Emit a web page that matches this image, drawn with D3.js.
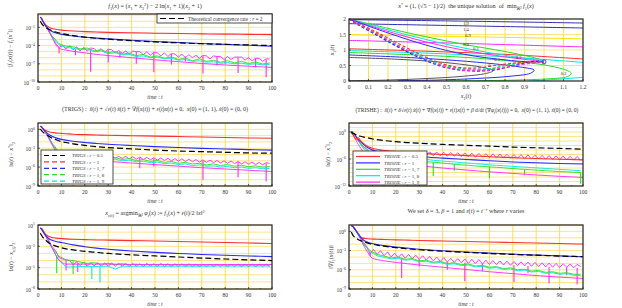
<!DOCTYPE html>
<html>
<head>
<meta charset="utf-8">
<script src="https://cdn.jsdelivr.net/npm/d3@7"></script>
<style>
  body { margin: 0; background: #fff; }
  text { font-family: "Liberation Serif", "DejaVu Serif", serif; fill: #333; }
</style>
</head>
<body>
<div id="chart"></div>
<script>
// time grids (seconds of the dynamics)
var tSmooth = [1, 1.5, 2, 3, 4, 5, 6, 7, 8, 10, 12, 15, 20, 25, 30, 40, 50, 60, 70, 80, 90, 100];
var tStart = [1.5, 2, 3, 4, 5];
var tOsc = tStart.concat(d3.range(6, 100, 1.5));
var tWig = tStart.concat(d3.range(6, 100, 3));
var xTicks = [0, 10, 20, 30, 40, 50, 60, 70, 80, 90, 100];

// all values below are log10 of what is plotted
// spikes are [t, from, to]

// panel 1 : |f1(x(t)) - f1(x*)|
var p1Black = [0, -0.35, -0.6, -0.95, -1.2, -1.4, -1.55, -1.68, -1.8, -2.0, -2.15, -2.35, -2.6, -2.8, -2.95, -3.2, -3.4, -3.55, -3.7, -3.8, -3.9, -4.0];
var p1Red = [0.7, 0.45, 0.1, -0.45, -0.8, -1.05, -1.2, -1.28, -1.35, -1.45, -1.52, -1.6, -1.7, -1.76, -1.82, -1.9, -1.96, -2.02, -2.07, -2.12, -2.16, -2.2];
var p1Blue = [0.7, 0.45, 0.05, -0.6, -1.05, -1.45, -1.7, -1.85, -1.97, -2.15, -2.28, -2.42, -2.62, -2.77, -2.9, -3.13, -3.33, -3.5, -3.66, -3.8, -3.95, -4.1];
var p1Mag = [0.7, 0.5, 0.1, -0.6, -1.2, -1.9, -2.6, -3.4, -4.1, -4.6, -4.75, -4.95, -5.2, -5.45, -5.65, -6.0, -6.35, -6.65, -6.95, -7.2, -7.4, -7.6];
var p1Green = [0.5, 0.1, -0.6, -1.2, -1.8,
  -2.4, -3.7, -4.1, -4.2, -4.55, -4.4, -4.85, -4.7,
  -5.15, -5.0, -5.4, -5.25, -5.65, -5.45, -5.9, -5.7,
  -6.1, -5.85, -6.3, -6.05, -6.5, -6.2, -6.6, -6.4,
  -6.75, -6.5, -6.85, -6.6, -6.95, -6.7, -7.05, -6.85];
var p1Cyan = [0.45, 0.05, -0.65, -1.3, -1.95,
  -2.6, -3.9, -4.3, -4.45, -4.7, -4.6, -5.0, -4.9,
  -5.3, -5.2, -5.55, -5.45, -5.8, -5.7, -6.0, -5.9,
  -6.2, -6.1, -6.4, -6.3, -6.6, -6.5, -6.75, -6.65,
  -6.9, -6.8, -7.0, -6.9, -7.1, -7.0, -7.2, -7.1];
var p1MagOsc = [0.55, 0.15, -0.55, -1.15, -1.8,
  -2.6, -3.6, -4.3, -4.0, -4.6, -4.0, -4.7, -4.2, -4.9, -4.3,
  -4.9, -4.4, -4.5, -5.0, -4.5, -5.1, -4.6, -4.7, -5.2, -4.8,
  -5.3, -4.9, -5.4, -4.9, -5.0, -5.0, -5.5, -5.0, -5.6, -5.1,
  -5.2, -5.7, -5.2, -5.8, -5.3, -5.4, -5.9, -5.4, -6.0, -5.5,
  -6.0, -5.6, -6.1, -5.6, -5.7, -6.2, -5.7, -5.8, -5.8, -6.3,
  -5.8, -6.3, -5.9, -5.9, -5.9, -6.4, -6.0, -6.5, -6.1, -6.1,
  -6.6, -6.2, -6.2];
var p1MagSpikes = [[9, -4.3, -5.3], [16, -4.6, -5.6], [22.5, -4.6, -8.3], [30, -4.7, -6.8], [35, -5.0, -6.0], [42, -5.0, -7.0],
  [49.5, -5.2, -8.4], [57, -5.4, -7.1], [63, -5.8, -6.6], [70.5, -5.7, -8.6], [76.5, -5.8, -7.3], [80, -6.2, -7.0],
  [85.5, -6.0, -8.5], [93, -6.1, -7.6], [97.5, -6.3, -9.2]];

// panel 3 : TRIGS ||x(t) - x*||
var p3Black = [0.05, -0.2, -0.4, -0.7, -0.95, -1.2, -1.4, -1.55, -1.7, -1.95, -2.1, -2.3, -2.55, -2.75, -2.9, -3.1, -3.3, -3.45, -3.55, -3.65, -3.75, -3.8];
var p3Red = [0.5, 0.35, 0.15, -0.1, -0.3, -0.42, -0.5, -0.55, -0.6, -0.65, -0.7, -0.78, -0.85, -0.9, -0.95, -1.02, -1.08, -1.15, -1.22, -1.3, -1.37, -1.43];
var p3Blue = [0.5, 0.35, 0.1, -0.3, -0.65, -0.9, -1.1, -1.25, -1.4, -1.6, -1.72, -1.9, -2.1, -2.25, -2.38, -2.58, -2.75, -2.9, -3.02, -3.12, -3.22, -3.3];
var p3Mag = [0.5, 0.4, 0.2, -0.4, -1.0, -1.7, -2.4, -3.1, -3.8, -4.3, -4.45, -4.6, -4.8, -4.95, -5.1, -5.35, -5.6, -5.85, -6.1, -6.3, -6.5, -6.7];
var p3Green = [0.45, 0.2, -0.35, -0.95, -1.6,
  -2.2, -3.6, -4.0, -4.1, -4.35, -4.2, -4.5, -4.35,
  -4.65, -4.5, -4.8, -4.65, -4.95, -4.8, -5.1, -4.95,
  -5.25, -5.1, -5.4, -5.25, -5.5, -5.4, -5.65, -5.5,
  -5.75, -5.6, -5.85, -5.7, -5.95, -5.8, -6.0, -5.9];
var p3Cyan = [0.45, 0.2, -0.4, -1.0, -1.7,
  -2.4, -3.8, -4.2, -4.3, -4.5, -4.4, -4.7, -4.6,
  -4.85, -4.75, -5.0, -4.9, -5.15, -5.05, -5.3, -5.2,
  -5.45, -5.35, -5.6, -5.5, -5.75, -5.65, -5.85, -5.8,
  -6.0, -5.9, -6.1, -6.0, -6.2, -6.1, -6.25, -6.2];
var p3MagOsc = [0.5, 0.25, -0.3, -0.9, -1.5,
  -2.3, -3.3, -4.3, -3.9, -4.3, -3.95, -4.35, -4.0, -4.4, -4.05,
  -4.45, -4.1, -4.5, -4.15, -4.55, -4.2, -4.6, -4.25, -4.6, -4.3,
  -4.65, -4.3, -4.7, -4.35, -4.75, -4.4, -4.8, -4.45, -4.85, -4.5,
  -4.9, -4.55, -4.95, -4.6, -5.0, -4.65, -5.05, -4.7, -5.1, -4.75,
  -5.15, -4.8, -5.2, -4.85, -5.25, -4.9, -5.3, -4.95, -5.35, -5.0,
  -5.4, -5.05, -5.45, -5.1, -5.5, -5.15, -5.55, -5.2, -5.6, -5.25,
  -5.65, -5.3, -5.4];
var p3MagSpikes = [[9, -4.3, -5.4], [30, -4.6, -5.6], [43.5, -4.5, -6.2], [49.5, -4.6, -5.9], [70.5, -5.0, -8.0], [85.5, -5.2, -7.6], [97.5, -5.4, -8.3]];

// panel 4 : TRISHE ||x(t) - x*||
var p4Black = [0.05, -0.2, -0.35, -0.6, -0.8, -0.95, -1.1, -1.2, -1.3, -1.55, -1.7, -1.9, -2.15, -2.35, -2.5, -2.75, -2.95, -3.15, -3.35, -3.5, -3.65, -3.8];
var p4Red = [0, -0.3, -0.9, -1.6, -1.3, -2.0, -2.4, -2.9, -3.2, -3.6, -3.85, -4.1, -4.35, -4.55, -4.7, -5.0, -5.25, -5.5, -5.7, -5.9, -6.05, -6.2];
var p4Blue = [0, -0.5, -0.3, -1.0, -1.7, -2.2, -2.7, -3.1, -3.5, -4.0, -4.3, -4.6, -4.95, -5.2, -5.45, -5.8, -6.1, -6.4, -6.65, -6.85, -7.0, -7.1];
var p4Mag = [0.1, -0.4, -0.8, -1.8, -2.8, -3.6, -4.3, -4.9, -5.4, -5.9, -6.2, -6.5, -6.9, -7.2, -7.5, -8.0, -8.45, -8.85, -9.2, -9.55, -9.85, -10.1];
var p4Green = [0.1, -0.3, -1.0, -1.9, -2.8,
  -3.6, -4.8, -5.3, -5.5, -5.8, -5.9, -6.1, -6.2,
  -6.4, -6.6, -6.7, -6.85, -7.0, -7.15, -7.3, -7.4,
  -7.55, -7.65, -7.75, -7.85, -7.95, -8.1, -8.2, -8.3,
  -8.4, -8.5, -8.6, -8.7, -8.8, -8.85, -8.95, -9.0];
var p4GreenSpikes = [[27, -6.2, -9.5], [36, -6.7, -9.8], [45, -7.1, -8.6], [60, -7.7, -10.3], [75, -8.3, -9.6], [99, -9.0, -11.5]];
var p4Cyan = [0.1, -0.3, -1.0, -1.8, -2.6,
  -3.3, -4.4, -4.9, -5.1, -5.35, -5.45, -5.7, -5.8,
  -6.0, -6.1, -6.3, -6.4, -6.55, -6.65, -6.8, -6.9,
  -7.05, -7.15, -7.3, -7.4, -7.5, -7.6, -7.7, -7.8,
  -7.9, -8.0, -8.1, -8.2, -8.3, -8.4, -8.5, -8.6];
var p4MagOsc = [0.2, -0.3, -1.2, -2.0, -2.6,
  -3.2, -3.7, -4.6, -3.9, -4.8, -4.0, -4.9, -4.1, -5.0, -4.15,
  -5.0, -4.2, -5.1, -4.25, -5.1, -4.3, -5.2, -4.35, -5.2, -4.4,
  -5.3, -4.45, -5.3, -4.5, -5.4, -4.55, -5.4, -4.6, -5.5, -4.65,
  -5.5, -4.7, -5.6, -4.75, -5.6, -4.8, -5.7, -4.85, -5.7, -4.9,
  -5.75, -4.95, -5.8, -5.0, -5.85, -5.05, -5.9, -5.1, -5.95, -5.15,
  -6.0, -5.2, -6.05, -5.25, -6.1, -5.3, -6.15, -5.35, -6.2, -5.4,
  -6.25, -5.45, -6.3];

// panel 5 : ||x(t) - x_eps(t)||
var p5Black = [-0.15, -0.45, -0.7, -1.05, -1.35, -1.6, -1.75, -1.9, -2.0, -2.2, -2.35, -2.5, -2.7, -2.85, -3.0, -3.2, -3.35, -3.5, -3.65, -3.78, -3.9, -4.0];
var p5Red = [0.6, 0.4, 0.15, -0.25, -0.5, -0.65, -0.75, -0.8, -0.85, -0.9, -0.95, -1.0, -1.05, -1.1, -1.13, -1.2, -1.25, -1.32, -1.4, -1.47, -1.53, -1.6];
var p5Blue = [0.6, 0.4, 0.15, -0.35, -0.75, -1.0, -1.15, -1.25, -1.35, -1.45, -1.6, -1.8, -2.05, -2.25, -2.4, -2.65, -2.85, -3.0, -3.15, -3.25, -3.35, -3.45];
var p5Mag = [0.6, 0.45, 0.2, -0.4, -1.0, -1.6, -2.2, -2.8, -3.5, -4.2, -4.5, -4.5, -4.5, -4.5, -4.5, -4.55, -4.55, -4.55, -4.55, -4.55, -4.55, -4.55];
var p5Green = [0.55, 0.3, -0.3, -0.9, -1.5,
  -2.2, -3.4, -3.9, -4.0, -4.2, -4.4, -4.3, -4.5,
  -4.4, -4.55, -4.45, -4.6, -4.5, -4.6, -4.55, -4.6,
  -4.55, -4.65, -4.55, -4.65, -4.6, -4.65, -4.6, -4.65,
  -4.6, -4.65, -4.6, -4.65, -4.6, -4.65, -4.6, -4.65];
var p5GreenSpikes = [[8, -3.3, -5.8], [15, -4.1, -5.9]];
var p5Cyan = [0.55, 0.3, -0.3, -0.9, -1.6,
  -2.3, -4.0, -4.9, -4.9, -4.85, -4.85, -4.85, -4.8,
  -4.8, -5.2, -4.8, -4.8, -4.8, -4.8, -4.8, -4.8,
  -4.8, -4.8, -4.8, -4.8, -4.8, -4.8, -4.8, -4.8,
  -4.75, -4.8, -4.75, -4.8, -4.75, -4.8, -4.75, -4.8];
var p5CyanSpikes = [[23, -4.85, -6.6], [26.5, -4.85, -7.1]];
var p5MagOsc = [0.6, 0.4, -0.2, -0.8, -1.4,
  -2.0, -2.6, -3.6, -3.8, -3.9, -4.0, -4.6, -4.2, -4.7, -4.2,
  -4.8, -4.3, -4.75, -4.3, -4.8, -4.35, -4.8, -4.35, -4.8, -4.4,
  -4.8, -4.4, -4.85, -4.4, -4.8, -4.45, -4.85, -4.4, -4.8, -4.45,
  -4.85, -4.4, -4.85, -4.45, -4.85, -4.45, -4.85, -4.45, -4.85, -4.45,
  -4.85, -4.5, -4.85, -4.5, -4.85, -4.5, -4.85, -4.5, -4.85, -4.5,
  -4.85, -4.5, -4.85, -4.5, -4.85, -4.5, -4.85, -4.5, -4.85, -4.5,
  -4.85, -4.5, -4.8];
var p5MagSpikes = [[12, -3.9, -5.4], [17, -4.4, -5.6]];

// panel 6 : ||grad f1(x(t))||
var p6Black = [-0.1, -0.5, -0.75, -1.05, -1.3, -1.45, -1.6, -1.72, -1.82, -2.0, -2.15, -2.32, -2.55, -2.72, -2.87, -3.1, -3.28, -3.45, -3.6, -3.72, -3.85, -3.95];
var p6Red = [0.9, 0.8, 0.6, 0.1, -0.4, -0.9, -1.05, -1.1, -1.15, -1.2, -1.22, -1.27, -1.32, -1.37, -1.42, -1.5, -1.58, -1.66, -1.74, -1.82, -1.9, -1.98];
var p6Blue = [0.9, 0.8, 0.6, 0.1, -0.4, -0.9, -1.3, -1.55, -1.7, -1.9, -2.05, -2.22, -2.45, -2.62, -2.78, -3.02, -3.22, -3.4, -3.55, -3.7, -3.82, -3.95];
var p6Mag = [0.9, 0.8, 0.6, 0.1, -0.5, -1.2, -2.0, -2.7, -3.3, -4.2, -4.4, -4.6, -4.85, -5.05, -5.25, -5.6, -5.95, -6.3, -6.6, -6.9, -7.15, -7.35];
var p6Green = [0.85, 0.6, 0.1, -0.5, -1.1,
  -1.8, -3.0, -3.6, -3.85, -4.15, -4.0, -4.35, -4.25,
  -4.6, -4.5, -4.8, -4.7, -5.0, -4.9, -5.2, -5.1,
  -5.4, -5.3, -5.6, -5.5, -5.8, -5.7, -6.0, -5.9,
  -6.2, -6.1, -6.4, -6.3, -6.55, -6.45, -6.7, -6.7];
var p6Cyan = [0.85, 0.6, 0.05, -0.55, -1.2,
  -1.9, -3.2, -3.8, -4.05, -4.3, -4.2, -4.5, -4.4,
  -4.75, -4.65, -4.95, -4.85, -5.15, -5.05, -5.35, -5.25,
  -5.55, -5.45, -5.75, -5.65, -5.95, -5.85, -6.15, -6.05,
  -6.35, -6.25, -6.55, -6.45, -6.7, -6.6, -6.85, -6.9];
var p6MagOsc = [0.9, 0.7, 0.2, -0.4, -1.0,
  -1.6, -2.3, -3.6, -2.8, -3.6, -3.0, -3.8, -3.2, -4.0, -3.4,
  -4.1, -3.5, -4.2, -3.6, -4.3, -3.7, -4.4, -3.8, -4.5, -3.9,
  -4.6, -4.0, -4.7, -4.1, -4.8, -4.2, -4.85, -4.25, -4.9, -4.3,
  -5.0, -4.35, -5.05, -4.4, -5.1, -4.5, -5.15, -4.55, -5.2, -4.6,
  -5.25, -4.65, -5.3, -4.7, -5.35, -4.75, -5.4, -4.8, -5.45, -4.85,
  -5.5, -4.9, -5.55, -4.95, -5.6, -5.0, -5.65, -5.05, -5.6, -5.1,
  -5.7, -5.15, -5.5];
var p6MagSpikes = [[9, -3.2, -3.9], [22.5, -4.2, -7.3], [30, -4.4, -5.5], [42, -4.8, -6.0], [49.5, -4.9, -7.8], [57, -5.1, -6.2],
  [70.5, -5.3, -7.9], [76.5, -5.4, -6.5], [85.5, -5.55, -8.1], [93, -5.6, -6.8], [97.5, -5.7, -8.3]];

// panel 2 : phase plane (x1, x2), level lines and trajectories
var lvNavyA = [[0, 1.98], [0.6, 1.93], [1.2, 1.87]];
var lvNavyB = [[0, 1.85], [0.6, 1.78], [1.2, 1.71]];
var lvYellow = [[0, 1.49], [0.6, 1.43], [1.2, 1.36]];
var lvMagenta = [[0, 1.31], [0.6, 1.21], [1.2, 1.10]];
var lvRed = [[0, 1.04], [0.4, 0.96], [0.8, 0.86], [1.2, 0.71]];
var lvCyan = [[0, 0.98], [0.4, 0.9], [0.8, 0.78], [1.2, 0.6]];
var lvCyanLow = [[0.92, 0.0], [1.08, 0.06], [1.2, 0.12]];
var lvGreen = [[0, 0.92], [0.3, 0.85], [0.6, 0.76], [0.85, 0.63], [1.0, 0.52], [1.1, 0.38], [1.14, 0.25], [1.12, 0.14], [1.02, 0.07], [0.85, 0.03], [0.65, 0.01], [0.5, 0]];
var lvBlue = [[0, 0.84], [0.3, 0.76], [0.55, 0.66], [0.75, 0.55], [0.88, 0.45], [0.95, 0.35], [0.93, 0.25], [0.82, 0.15], [0.65, 0.08], [0.45, 0.03], [0.25, 0.01]];
var lvGray = [[0, 0.76], [0.25, 0.7], [0.45, 0.62], [0.6, 0.52], [0.7, 0.42], [0.74, 0.33], [0.7, 0.24], [0.58, 0.15], [0.4, 0.08], [0.2, 0.03], [0, 0.01]];
var lvLabels = [["1.9", 0.6, 1.8], ["1.4", 0.6, 1.6], ["0.9", 0.61, 1.41], ["0.4", 0.6, 1.14], ["0.3", 0.65, 1.0], ["0.1", 0.76, 0.66], ["0.2", 0.87, 0.7], ["0.3", 1.1, 0.19], ["0", 0.72, 0.45]];
var trRedDash = [[0, 2], [0.05, 1.85], [0.15, 1.55], [0.25, 1.22], [0.35, 0.9], [0.45, 0.62], [0.55, 0.45], [0.65, 0.42], [0.75, 0.5], [0.85, 0.58], [0.95, 0.61], [1, 0.62]];
var trMagDash = [[0, 2], [0.05, 1.82], [0.15, 1.5], [0.25, 1.15], [0.35, 0.82], [0.45, 0.55], [0.55, 0.38], [0.65, 0.33], [0.75, 0.38], [0.85, 0.5], [0.95, 0.58], [1, 0.6]];
var trBlueDash = [[0, 2], [0.05, 1.8], [0.15, 1.45], [0.25, 1.1], [0.35, 0.78], [0.45, 0.52], [0.55, 0.37], [0.65, 0.32], [0.75, 0.36], [0.85, 0.5], [0.93, 0.62], [0.98, 0.64]];
var trGreenDash = [[0, 2], [0.05, 1.82], [0.15, 1.48], [0.25, 1.12], [0.35, 0.8], [0.45, 0.55], [0.55, 0.4], [0.65, 0.36], [0.72, 0.38], [0.8, 0.5], [0.9, 0.6], [1, 0.62]];
var trCyanDash = [[0, 2], [0.05, 1.83], [0.15, 1.5], [0.25, 1.16], [0.35, 0.84], [0.45, 0.58], [0.55, 0.43], [0.65, 0.38], [0.74, 0.42], [0.82, 0.52], [0.92, 0.6], [1, 0.62]];
var trMagSolid = [[0, 2], [0.2, 1.6], [0.4, 1.25], [0.6, 0.98], [0.8, 0.78], [0.95, 0.66], [1, 0.62]];
var trBlueSolid = [[0, 2], [0.2, 1.55], [0.4, 1.15], [0.6, 0.85], [0.8, 0.68], [0.92, 0.62], [1, 0.62]];
var trGreenSolid = [[0, 2], [0.2, 1.7], [0.4, 1.42], [0.6, 1.17], [0.8, 0.95], [0.95, 0.75], [1, 0.65]];
var trCyanSolid = [[0, 2], [0.2, 1.65], [0.4, 1.33], [0.6, 1.05], [0.8, 0.83], [1, 0.65]];
var xStar = [1, 0.618];

var C = {red: "#ff3030", blue: "#2a2aff", green: "#22e022", cyan: "#00e6e6", magenta: "#ff28ff", black: "#000", gray: "#555", navy: "#3030b0", yellow: "#f5e400"};
var gridCol = "#ffe27a";

var svg = d3.select("#chart").append("svg").attr("width", 622).attr("height", 308);

// rich text helper: parts are strings or [text, flags] with i=italic, b=sub, p=sup
function rich(g, x, y, parts, size, anchor) {
  var t = g.append("text").attr("x", x).attr("y", y).attr("font-size", size)
    .attr("text-anchor", anchor || "middle");
  var shift = 0;
  parts.forEach(function(p) {
    var s = typeof p === "string" ? p : p[0], f = typeof p === "string" ? "" : p[1];
    var target = 0, fs = size;
    if (f.indexOf("b") >= 0) { target = size * 0.3; fs = size * 0.7; }
    if (f.indexOf("p") >= 0) { target = -size * 0.4; fs = size * 0.7; }
    var ts = t.append("tspan").attr("dy", target - shift).attr("font-size", fs).text(s);
    if (f.indexOf("i") >= 0) ts.attr("font-style", "italic");
    shift = target;
  });
  return t;
}

var clipId = 0;
function frame(g, b) {
  var id = "clip" + (clipId++);
  svg.append("clipPath").attr("id", id).append("rect")
    .attr("x", b.x0).attr("y", b.y0).attr("width", b.x1 - b.x0).attr("height", b.y1 - b.y0);
  return id;
}

function timePanel(p) {
  var b = p.box;
  var g = svg.append("g");
  var x = d3.scaleLinear().domain([0, 100]).range([b.x0, b.x1]);
  var y = d3.scaleLog().domain([Math.pow(10, p.lo), Math.pow(10, p.hi)]).range([b.y1, b.y0]);
  var id = frame(g, b);
  var ey = function(e) { return y(Math.pow(10, e)); };

  // grid
  d3.range(Math.ceil(p.lo), Math.floor(p.hi) + 1).forEach(function(e) {
    g.append("line").attr("x1", b.x0).attr("x2", b.x1).attr("y1", ey(e)).attr("y2", ey(e))
      .attr("stroke", gridCol).attr("stroke-width", 0.9);
  });
  xTicks.slice(1, -1).forEach(function(v) {
    g.append("line").attr("x1", x(v)).attr("x2", x(v)).attr("y1", b.y0).attr("y2", b.y1)
      .attr("stroke", "#ffd84a").attr("stroke-width", 0.9);
  });

  var plot = g.append("g").attr("clip-path", "url(#" + id + ")");
  p.series.forEach(function(s) {
    if (s.spikes) {
      plot.selectAll(null).data(s.spikes).enter().append("line")
        .attr("x1", function(d) { return x(d[0]); }).attr("x2", function(d) { return x(d[0]); })
        .attr("y1", function(d) { return ey(d[1]); }).attr("y2", function(d) { return ey(d[2]); })
        .attr("stroke", s.color).attr("stroke-width", 1.1);
      return;
    }
    var line = d3.line()
      .x(function(d) { return x(d[0]); })
      .y(function(d) { return ey(d[1]); })
      .curve(s.smooth ? d3.curveMonotoneX : d3.curveLinear);
    plot.append("path").datum(d3.zip(s.t, s.v))
      .attr("fill", "none").attr("stroke", s.color)
      .attr("stroke-width", s.w || 1)
      .attr("stroke-dasharray", s.dash || null)
      .attr("d", line);
  });

  g.append("rect").attr("x", b.x0).attr("y", b.y0).attr("width", b.x1 - b.x0).attr("height", b.y1 - b.y0)
    .attr("fill", "none").attr("stroke", "#222").attr("stroke-width", 1.2);

  // x ticks
  xTicks.forEach(function(v) {
    g.append("line").attr("x1", x(v)).attr("x2", x(v)).attr("y1", b.y1).attr("y2", b.y1 - 2).attr("stroke", "#222").attr("stroke-width", 0.7);
    g.append("text").attr("x", x(v)).attr("y", b.y1 + 8).attr("font-size", 5.5).attr("text-anchor", "middle").text(v);
  });
  d3.range(5, 100, 10).forEach(function(v) {
    g.append("line").attr("x1", x(v)).attr("x2", x(v)).attr("y1", b.y1).attr("y2", b.y1 - 1).attr("stroke", "#222").attr("stroke-width", 0.6);
  });
  // y ticks
  p.yLabels.forEach(function(e) {
    var yy = ey(e);
    g.append("line").attr("x1", b.x0).attr("x2", b.x0 + 2).attr("y1", yy).attr("y2", yy).attr("stroke", "#222").attr("stroke-width", 0.7);
    rich(g, b.x0 - 3, yy + 2.5, ["10", [e < 0 ? "\u2212" + (-e) : String(e), "p"]], 5.5, "end");
  });

  rich(g, (b.x0 + b.x1) / 2, b.y1 + 17, [["time", "i"], " : ", ["t", "i"]], 5.5, "middle");
  var yl = rich(g, 0, 0, p.yTitle, 6, "middle");
  yl.attr("transform", "translate(" + p.yTitleX + "," + ((b.y0 + b.y1) / 2) + ") rotate(-90)");
  return {g: g, x: x, y: y};
}

function curveSet(black, red, blue, mag, green, cyan, magOsc, magSpikes) {
  return [
    {t: tOsc, v: magOsc, color: C.magenta, w: 0.9},
    {spikes: magSpikes || [], color: C.magenta},
    {t: tWig, v: cyan, color: C.cyan, w: 0.9},
    {t: tWig, v: green, color: C.green, w: 0.9},
    {t: tSmooth, v: mag, color: C.magenta, smooth: true, w: 0.9},
    {t: tSmooth, v: red, color: C.red, smooth: true, w: 1.1},
    {t: tSmooth, v: blue, color: C.blue, smooth: true, w: 1.1},
    {t: tSmooth, v: black, color: C.black, smooth: true, w: 1.2, dash: "6,3"}
  ];
}

var L = {x0: 38, x1: 272}, R = {x0: 349, x1: 583};

// ---------- panel 1 ----------
timePanel({
  box: {x0: L.x0, x1: L.x1, y0: 14, y1: 82}, lo: -10, hi: 1.2,
  yLabels: [-1, -4, -7, -10],
  series: curveSet(p1Black, p1Red, p1Blue, p1Mag, p1Green, p1Cyan, p1MagOsc, p1MagSpikes),
  yTitle: ["|", ["f", "i"], ["1", "b"], "(", ["x", "i"], "(", ["t", "i"], ")) \u2212 ", ["f", "i"], ["1", "b"], "(", ["x", "i"], ["*", "p"], ")|"],
  yTitleX: 12
});
rich(svg, 155, 8, [["f", "i"], ["1", "b"], "(", ["x", "i"], ") = (", ["x", "i"], ["1", "b"], " + ", ["x", "i"], ["2", "b"], ["2", "p"], ") \u2212 2 ln(", ["x", "i"], ["1", "b"], " + 1)(", ["x", "i"], ["2", "b"], " + 1)"], 6.2, "middle");
var lg1 = svg.append("g");
lg1.append("rect").attr("x", 157).attr("y", 14).attr("width", 115).attr("height", 9).attr("fill", "#fff").attr("stroke", "#222").attr("stroke-width", 0.8);
lg1.append("line").attr("x1", 160).attr("x2", 185).attr("y1", 18.5).attr("y2", 18.5).attr("stroke", "#000").attr("stroke-width", 1.2).attr("stroke-dasharray", "6,3");
rich(lg1, 188, 20.5, ["Theoretical convergence rate : ", ["r", "i"], " = 2"], 5.2, "start");

// ---------- panel 2 ----------
(function() {
  var b = {x0: R.x0, x1: R.x1, y0: 19, y1: 81};
  var g = svg.append("g");
  var x = d3.scaleLinear().domain([0, 1.2]).range([b.x0, b.x1]);
  var y = d3.scaleLinear().domain([0, 2]).range([b.y1, b.y0]);
  var id = frame(g, b);
  var xt = d3.range(0, 1.21, 0.1).map(function(v) { return Math.round(v * 10) / 10; });
  xt.slice(1, -1).forEach(function(v) {
    g.append("line").attr("x1", x(v)).attr("x2", x(v)).attr("y1", b.y0).attr("y2", b.y1).attr("stroke", "#ffd84a").attr("stroke-width", 0.9);
  });
  [0.5, 1, 1.5].forEach(function(v) {
    g.append("line").attr("x1", b.x0).attr("x2", b.x1).attr("y1", y(v)).attr("y2", y(v)).attr("stroke", gridCol).attr("stroke-width", 0.9);
  });
  var plot = g.append("g").attr("clip-path", "url(#" + id + ")");
  var line = d3.line().x(function(d) { return x(d[0]); }).y(function(d) { return y(d[1]); }).curve(d3.curveCatmullRom);
  var curves = [
    [lvNavyA, C.navy], [lvNavyB, C.navy], [lvYellow, C.yellow], [lvMagenta, C.magenta],
    [lvRed, C.red], [lvCyan, C.cyan], [lvCyanLow, C.cyan], [lvGreen, C.green],
    [lvBlue, C.blue], [lvGray, C.gray],
    [trGreenSolid, C.green], [trCyanSolid, C.cyan], [trMagSolid, C.magenta], [trBlueSolid, C.blue],
    [trCyanDash, C.cyan, "3,2"], [trGreenDash, C.green, "3,2"], [trBlueDash, C.blue, "3,2"],
    [trMagDash, C.magenta, "3,2"], [trRedDash, C.red, "3,2"]
  ];
  curves.forEach(function(c) {
    plot.append("path").datum(c[0]).attr("fill", "none").attr("stroke", c[1])
      .attr("stroke-width", c[2] ? 1.2 : 1).attr("stroke-dasharray", c[2] || null).attr("d", line);
  });
  lvLabels.forEach(function(l) {
    g.append("text").attr("x", x(l[1])).attr("y", y(l[2])).attr("font-size", 4.6).attr("text-anchor", "middle").attr("fill", "#222").text(l[0]);
  });
  plot.append("circle").attr("cx", x(xStar[0])).attr("cy", y(xStar[1])).attr("r", 2).attr("fill", "none").attr("stroke", C.blue).attr("stroke-width", 0.9);
  g.append("rect").attr("x", b.x0).attr("y", b.y0).attr("width", b.x1 - b.x0).attr("height", b.y1 - b.y0)
    .attr("fill", "none").attr("stroke", "#222").attr("stroke-width", 1.2);
  xt.forEach(function(v) {
    g.append("line").attr("x1", x(v)).attr("x2", x(v)).attr("y1", b.y1).attr("y2", b.y1 - 2).attr("stroke", "#222").attr("stroke-width", 0.7);
    g.append("text").attr("x", x(v)).attr("y", b.y1 + 8).attr("font-size", 5.5).attr("text-anchor", "middle").text(v);
  });
  [0, 0.5, 1, 1.5, 2].forEach(function(v) {
    g.append("line").attr("x1", b.x0).attr("x2", b.x0 + 2).attr("y1", y(v)).attr("y2", y(v)).attr("stroke", "#222").attr("stroke-width", 0.7);
    g.append("text").attr("x", b.x0 - 3).attr("y", y(v) + 2).attr("font-size", 5.5).attr("text-anchor", "end").text(v);
  });
  rich(g, (b.x0 + b.x1) / 2, b.y1 + 17, [["x", "i"], ["1", "b"], "(", ["t", "i"], ")"], 6, "middle");
  rich(g, 0, 0, [["x", "i"], ["2", "b"], "(", ["t", "i"], ")"], 6, "middle")
    .attr("transform", "translate(334," + ((b.y0 + b.y1) / 2) + ") rotate(-90)");
  rich(svg, 466, 8, [["x", "i"], ["*", "p"], " = (1, (\u221a5 \u2212 1)/2)\u00a0 the unique solution\u00a0 of\u00a0 min", ["\u211d\u00b2", "b"], " ", ["f", "i"], ["1", "b"], "(", ["x", "i"], ")"], 6.2, "middle");
})();

// ---------- panel 3 ----------
timePanel({
  box: {x0: L.x0, x1: L.x1, y0: 123, y1: 186}, lo: -9, hi: 1,
  yLabels: [0, -3, -6, -9],
  series: curveSet(p3Black, p3Red, p3Blue, p3Mag, p3Green, p3Cyan, p3MagOsc, p3MagSpikes),
  yTitle: ["\u2016", ["x", "i"], "(", ["t", "i"], ") \u2212 ", ["x", "i"], ["*", "p"], "\u2016", ["2", "b"]],
  yTitleX: 13
});
rich(svg, 155, 111, ["(TRIGS) :\u00a0 ", ["\u1e8d", "i"], "(", ["t", "i"], ") + \u221a", ["\u03b5", "i"], "(", ["t", "i"], ") ", ["\u1e8b", "i"], "(", ["t", "i"], ") + \u2207", ["f", "i"], "(", ["x", "i"], "(", ["t", "i"], ")) + ", ["\u03b5", "i"], "(", ["t", "i"], ")", ["x", "i"], "(", ["t", "i"], ") = 0,\u00a0 ", ["x", "i"], "(0) = (1, 1), ", ["\u1e8b", "i"], "(0) = (0, 0)"], 6, "middle");
(function() {
  var g = svg.append("g");
  g.append("rect").attr("x", 41).attr("y", 150).attr("width", 72).attr("height", 34).attr("fill", "#fff").attr("stroke", "#222").attr("stroke-width", 0.8);
  var items = [["0.5", C.black], ["1", C.red], ["1, 7", C.blue], ["1, 8", C.green], ["1, 9", C.cyan]];
  items.forEach(function(it, i) {
    var yy = 155.5 + i * 6.4;
    g.append("line").attr("x1", 44).attr("x2", 68).attr("y1", yy).attr("y2", yy).attr("stroke", it[1])
      .attr("stroke-width", 1.2).attr("stroke-dasharray", "5,3");
    rich(g, 72, yy + 1.8, [["TRIGS", "i"], " : ", ["r", "i"], " = " + it[0]], 5, "start");
  });
})();

// ---------- panel 4 ----------
timePanel({
  box: {x0: R.x0, x1: R.x1, y0: 123, y1: 186}, lo: -12, hi: 2,
  yLabels: [0, -6, -12],
  series: [
    {t: tOsc, v: p4MagOsc, color: C.magenta, w: 0.9},
    {t: tWig, v: p4Cyan, color: C.cyan, w: 0.9},
    {t: tWig, v: p4Green, color: C.green, w: 0.9},
    {spikes: p4GreenSpikes, color: C.green},
    {t: tSmooth, v: p4Mag, color: C.magenta, smooth: true, w: 0.9},
    {t: tSmooth, v: p4Blue, color: C.blue, smooth: true, w: 1.1},
    {t: tSmooth, v: p4Red, color: C.red, smooth: true, w: 1.1},
    {t: tSmooth, v: p4Black, color: C.black, smooth: true, w: 1.2, dash: "6,3"}
  ],
  yTitle: ["\u2016", ["x", "i"], "(", ["t", "i"], ") \u2212 ", ["x", "i"], ["*", "p"], "\u2016", ["2", "b"]],
  yTitleX: 330
});
rich(svg, 467, 112, ["(TRISHE) :\u00a0 ", ["\u1e8d", "i"], "(", ["t", "i"], ") + ", ["\u03b4", "i"], "\u221a", ["\u03b5", "i"], "(", ["t", "i"], ") ", ["\u1e8b", "i"], "(", ["t", "i"], ") + \u2207", ["f", "i"], "(", ["x", "i"], "(", ["t", "i"], ")) + ", ["\u03b5", "i"], "(", ["t", "i"], ")", ["x", "i"], "(", ["t", "i"], ") + ", ["\u03b2", "i"], " d/d", ["t", "i"], " (\u2207", ["\u03c6", "i"], ["t", "bi"], "(", ["x", "i"], "(", ["t", "i"], "))) = 0,\u00a0 ", ["x", "i"], "(0) = (1, 1), ", ["\u1e8b", "i"], "(0) = (0, 0)"], 5.6, "middle");
(function() {
  var g = svg.append("g");
  g.append("rect").attr("x", 353).attr("y", 151).attr("width", 74).attr("height", 34).attr("fill", "#fff").attr("stroke", "#222").attr("stroke-width", 0.8);
  var items = [["0.5", C.red], ["1", C.blue], ["1, 7", C.green], ["1, 8", C.cyan], ["1, 9", C.magenta]];
  items.forEach(function(it, i) {
    var yy = 156.5 + i * 6.4;
    g.append("line").attr("x1", 356).attr("x2", 380).attr("y1", yy).attr("y2", yy).attr("stroke", it[1]).attr("stroke-width", 1.2);
    rich(g, 384, yy + 1.8, [["TRISHE", "i"], " : ", ["r", "i"], " = " + it[0]], 5, "start");
  });
})();

// ---------- panel 5 ----------
var p5Series = curveSet(p5Black, p5Red, p5Blue, p5Mag, p5Green, p5Cyan, p5MagOsc, p5MagSpikes);
p5Series.splice(3, 0, {spikes: p5CyanSpikes, color: C.cyan});
p5Series.splice(5, 0, {spikes: p5GreenSpikes, color: C.green});
timePanel({
  box: {x0: L.x0, x1: L.x1, y0: 225, y1: 289}, lo: -8, hi: 1,
  yLabels: [1, -2, -5, -8],
  series: p5Series,
  yTitle: ["\u2016", ["x", "i"], "(", ["t", "i"], ") \u2212 ", ["x", "i"], ["\u03b5(t)", "bi"], "\u2016", ["2", "b"]],
  yTitleX: 13
});
rich(svg, 155, 215, [["x", "i"], ["\u03b5(t)", "bi"], " = argmin", ["\u211d\u00b2", "b"], " ", ["\u03c6", "i"], ["t", "bi"], "(", ["x", "i"], ") := ", ["f", "i"], ["1", "b"], "(", ["x", "i"], ") + ", ["\u03b5", "i"], "(", ["t", "i"], ")/2 \u2016", ["x", "i"], "\u2016", ["2", "p"]], 6.2, "middle");

// ---------- panel 6 ----------
timePanel({
  box: {x0: R.x0, x1: R.x1, y0: 225, y1: 289}, lo: -9, hi: 1,
  yLabels: [0, -3, -6, -9],
  series: curveSet(p6Black, p6Red, p6Blue, p6Mag, p6Green, p6Cyan, p6MagOsc, p6MagSpikes),
  yTitle: ["\u2016\u2207", ["f", "i"], ["1", "b"], "(", ["x", "i"], "(", ["t", "i"], "))\u2016"],
  yTitleX: 333
});
rich(svg, 466, 213, ["We set ", ["\u03b4", "i"], " = 3, ", ["\u03b2", "i"], " = 1 and ", ["\u03b5", "i"], "(", ["t", "i"], ") = ", ["t", "i"], ["\u2212r", "pi"], " where ", ["r", "i"], " varies"], 6.2, "middle");
</script>
</body>
</html>
